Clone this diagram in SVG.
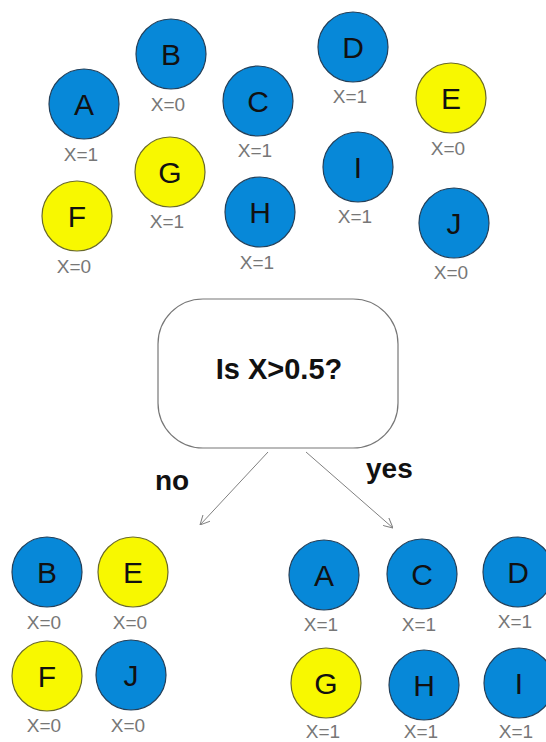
<svg xmlns="http://www.w3.org/2000/svg" width="546" height="742" viewBox="0 0 546 742">
<defs>
<style>
.blue{fill:#0788d8;stroke:#24405a;stroke-width:1.2}
.yellow{fill:#f8f800;stroke:#6a6a2a;stroke-width:1.2}
.let{font-family:"Liberation Sans",Arial,sans-serif;font-size:30px;fill:#111;text-anchor:middle}
.lab{font-family:"Liberation Sans",Arial,sans-serif;font-size:19px;fill:#777;text-anchor:middle}
.bold{font-family:"Liberation Sans",Arial,sans-serif;font-weight:bold;fill:#111}
.conn{stroke:#808080;stroke-width:1;fill:none}
</style>
<marker id="arr" viewBox="0 0 10 10" refX="10" refY="5" markerWidth="10" markerHeight="10" markerUnits="userSpaceOnUse" orient="auto">
<path d="M0,0 L10,5 L0,10" fill="none" stroke="#808080" stroke-width="1"/>
</marker>
</defs>
<rect width="546" height="742" fill="#fff"/>

<g id="top-A"><circle class="blue" cx="84" cy="104" r="35"/><text class="let" x="84" y="115">A</text><text class="lab" x="81" y="161">X=1</text></g>
<g id="top-B"><circle class="blue" cx="171" cy="54" r="35"/><text class="let" x="171" y="65">B</text><text class="lab" x="168" y="111">X=0</text></g>
<g id="top-C"><circle class="blue" cx="258" cy="101" r="35"/><text class="let" x="258" y="112">C</text><text class="lab" x="255" y="157">X=1</text></g>
<g id="top-D"><circle class="blue" cx="353" cy="47" r="35"/><text class="let" x="353" y="58">D</text><text class="lab" x="350" y="103">X=1</text></g>
<g id="top-E"><circle class="yellow" cx="451" cy="98" r="35"/><text class="let" x="451" y="109">E</text><text class="lab" x="448" y="155">X=0</text></g>
<g id="top-F"><circle class="yellow" cx="77" cy="216" r="35"/><text class="let" x="77" y="227">F</text><text class="lab" x="74" y="273">X=0</text></g>
<g id="top-G"><circle class="yellow" cx="170" cy="172" r="35"/><text class="let" x="170" y="183">G</text><text class="lab" x="167" y="228">X=1</text></g>
<g id="top-H"><circle class="blue" cx="260" cy="212" r="35"/><text class="let" x="260" y="223">H</text><text class="lab" x="257" y="269">X=1</text></g>
<g id="top-I"><circle class="blue" cx="358" cy="167" r="35"/><text class="let" x="358" y="178">I</text><text class="lab" x="355" y="223">X=1</text></g>
<g id="top-J"><circle class="blue" cx="454" cy="223" r="35"/><text class="let" x="454" y="234">J</text><text class="lab" x="451" y="279">X=0</text></g>

<g id="decision"><rect x="158" y="299" width="240" height="149" rx="45" ry="45" fill="#fff" stroke="#777" stroke-width="1.2"/><text class="bold" x="279" y="379" font-size="29" text-anchor="middle">Is X&gt;0.5?</text></g>

<g id="connectors">
<line class="conn" x1="268" y1="452" x2="200" y2="525" marker-end="url(#arr)"/>
<line class="conn" x1="306" y1="452" x2="393" y2="528" marker-end="url(#arr)"/>
<text class="bold" x="155" y="490" font-size="28">no</text>
<text class="bold" x="366" y="478" font-size="28">yes</text>
</g>

<g id="bl-B"><circle class="blue" cx="47" cy="572" r="35"/><text class="let" x="47" y="583">B</text><text class="lab" x="44" y="629">X=0</text></g>
<g id="bl-E"><circle class="yellow" cx="133" cy="572" r="35"/><text class="let" x="133" y="583">E</text><text class="lab" x="130" y="629">X=0</text></g>
<g id="bl-F"><circle class="yellow" cx="47" cy="676" r="35"/><text class="let" x="47" y="687">F</text><text class="lab" x="44" y="732">X=0</text></g>
<g id="bl-J"><circle class="blue" cx="131" cy="675" r="35"/><text class="let" x="131" y="686">J</text><text class="lab" x="128" y="732">X=0</text></g>

<g id="br-A"><circle class="blue" cx="324" cy="575" r="35"/><text class="let" x="324" y="586">A</text><text class="lab" x="321" y="631">X=1</text></g>
<g id="br-C"><circle class="blue" cx="422" cy="574" r="35"/><text class="let" x="422" y="585">C</text><text class="lab" x="419" y="631">X=1</text></g>
<g id="br-D"><circle class="blue" cx="518" cy="572" r="35"/><text class="let" x="518" y="583">D</text><text class="lab" x="515" y="628">X=1</text></g>
<g id="br-G"><circle class="yellow" cx="326" cy="683" r="35"/><text class="let" x="326" y="694">G</text><text class="lab" x="323" y="738">X=1</text></g>
<g id="br-H"><circle class="blue" cx="424" cy="685" r="35"/><text class="let" x="424" y="696">H</text><text class="lab" x="421" y="738">X=1</text></g>
<g id="br-I"><circle class="blue" cx="519" cy="683" r="35"/><text class="let" x="519" y="694">I</text><text class="lab" x="516" y="738">X=1</text></g>
</svg>
